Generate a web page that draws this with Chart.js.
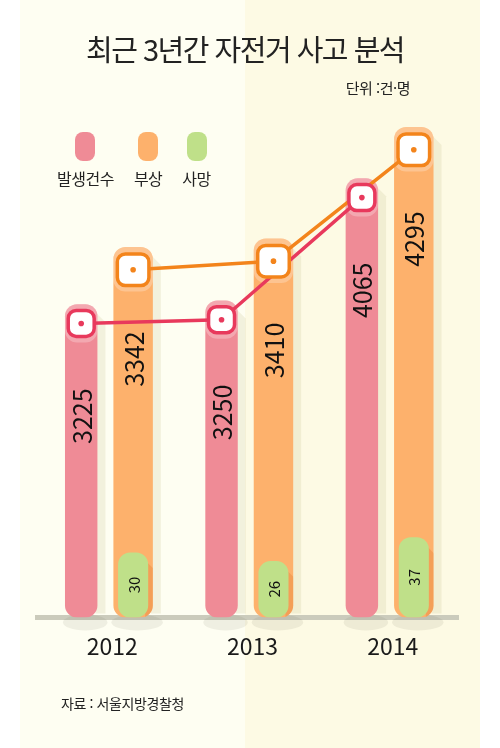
<!DOCTYPE html>
<html lang="ko">
<head>
<meta charset="utf-8">
<script src="https://cdn.jsdelivr.net/npm/chart.js@4.4.1/dist/chart.umd.min.js"></script>
<style>
  body { margin: 0; background: #fff; }
  #wrap {
    position: relative; width: 500px; height: 748px; overflow: hidden;
    font-family: "Noto Sans CJK KR", sans-serif; color: #222;
    background: linear-gradient(to right, #fff 0, #fff 20px, #fefef2 20px, #fefef2 245px,
      #fdfae4 245px, #fdfae4 480px, #fff 480px);
  }
  #myChart { position: absolute; left: 0; top: 0; }
  .title {
    position: absolute; left: 0; width: 490px; top: 30px; text-align: center;
    font-size: 29px; line-height: 36px; letter-spacing: -1.5px; color: #222;
  }
  .unit { position: absolute; right: 90px; top: 78px; font-size: 15px; line-height: 20px; letter-spacing: -0.5px; }
  #legend { position: absolute; left: 57px; top: 132px; display: flex; gap: 20px; }
  #legend .item { display: flex; flex-direction: column; align-items: center; }
  #legend .box { width: 20px; height: 29px; border-radius: 8px; }
  #legend .lbl { margin-top: 7px; font-size: 16px; line-height: 20px; letter-spacing: -0.5px; }
  .source { position: absolute; left: 61px; top: 693px; font-size: 14px; line-height: 20px; letter-spacing: -0.4px; }
</style>
</head>
<body>
<div id="wrap">
  <canvas id="myChart" width="500" height="748"></canvas>
  <div class="title">최근 3년간 자전거 사고 분석</div>
  <div class="unit">단위 :건·명</div>
  <div id="legend"></div>
  <div class="source">자료 : 서울지방경찰청</div>
</div>
<script>
//setup
const years = ["2012", "2013", "2014"];
const seriesNames = ["발생건수", "부상", "사망"];
const accidents = [3225, 3250, 4065];
const injuries = [3342, 3410, 4295];
const deaths = [30, 26, 37];

// the original is not drawn to scale, so every series gets its own hidden axis
const accidentAxis = { min: 1135, max: 4588 };
const injuryAxis = { min: 399, max: 4510 };
const deathAxis = { min: 0, max: 239 };

const barColors = ["#ef8b96", "#fdb16c", "#bfe089"];
const lineColors = ["#e8395c", "#f3841b"];

//legend
const legendEl = document.getElementById("legend");
seriesNames.forEach((name, i) => {
  legendEl.insertAdjacentHTML("beforeend",
    '<div class="item"><span class="box" style="background:' + barColors[i] +
    '"></span><span class="lbl">' + name + "</span></div>");
});

//plugins
const decorations = {
  id: "decorations",
  beforeDatasetsDraw(chart) {
    const ctx = chart.ctx;
    ctx.save();
    [0, 1].forEach((di) => {
      chart.getDatasetMeta(di).data.forEach((bar) => {
        const r = bar.x + bar.width / 2;
        ctx.fillStyle = "rgba(200,195,145,0.22)";
        ctx.beginPath();
        ctx.moveTo(r - 2, bar.y + 8);
        ctx.lineTo(r + 8, bar.y + 18);
        ctx.lineTo(r + 8, bar.base - 4);
        ctx.lineTo(r - 2, bar.base - 4);
        ctx.fill();
        ctx.fillStyle = "rgba(110,110,90,0.10)";
        ctx.beginPath();
        ctx.ellipse(bar.x + 4, bar.base + 5, bar.width / 2 + 6, 8, 0, 0, Math.PI * 2);
        ctx.fill();
      });
    });
    ctx.restore();
  },
  afterDatasetDraw(chart, args) {
    if (args.index !== 1) return;
    // shade cast by the green bars onto the orange ones
    const ctx = chart.ctx;
    const orange = chart.getDatasetMeta(1).data;
    chart.getDatasetMeta(2).data.forEach((g, i) => {
      const o = orange[i];
      const gr = g.x + g.width / 2;
      ctx.save();
      ctx.beginPath();
      ctx.roundRect(o.x - o.width / 2, o.y, o.width, o.base - o.y, 12);
      ctx.clip();
      ctx.fillStyle = "rgba(225,120,40,0.30)";
      ctx.beginPath();
      ctx.moveTo(gr - 3, g.y + 8);
      ctx.lineTo(gr + 25, g.y + 36);
      ctx.lineTo(gr + 25, o.base);
      ctx.lineTo(gr - 3, o.base);
      ctx.fill();
      ctx.restore();
    });
  },
  afterDatasetsDraw(chart) {
    const ctx = chart.ctx;
    ctx.save();

    // value labels, rotated
    ctx.fillStyle = "#111";
    ctx.textAlign = "center";
    ctx.textBaseline = "middle";
    [0, 1, 2].forEach((di) => {
      const values = chart.data.datasets[di].data;
      chart.getDatasetMeta(di).data.forEach((bar, i) => {
        const y = di === 2 ? (bar.y + bar.base) / 2 : bar.y + 112;
        ctx.font = (di === 2 ? "15px" : "25px") + " 'Noto Sans CJK KR'";
        ctx.save();
        ctx.translate(bar.x, y);
        ctx.rotate(-Math.PI / 2);
        ctx.fillText(String(values[i]), 0, 1);
        ctx.restore();
      });
    });

    // trend lines sit in the rounded top of each bar
    const pts = [0, 1].map((di) =>
      chart.getDatasetMeta(di).data.map((bar) => ({
        x: bar.x, y: bar.y + bar.width / 2 + 3, top: bar.y, w: bar.width, s: bar.width * 0.8,
      }))
    );

    pts.forEach((list) => list.forEach((p) => {
      ctx.fillStyle = "rgba(255,255,255,0.25)";
      ctx.beginPath();
      ctx.roundRect(p.x - p.w / 2, p.top, p.w, p.y - p.top + p.s / 2 + 6, 12);
      ctx.fill();
    }));

    [1, 0].forEach((k) => {
      ctx.strokeStyle = lineColors[k];
      ctx.lineWidth = 3.5;
      ctx.lineJoin = "round";
      ctx.beginPath();
      pts[k].forEach((p, i) => (i ? ctx.lineTo(p.x, p.y) : ctx.moveTo(p.x, p.y)));
      ctx.stroke();
    });

    [1, 0].forEach((k) => {
      pts[k].forEach((p) => {
        ctx.fillStyle = "#fff";
        ctx.strokeStyle = lineColors[k];
        ctx.lineWidth = 3.5;
        ctx.beginPath();
        ctx.roundRect(p.x - p.s / 2, p.y - p.s / 2, p.s, p.s, 8);
        ctx.fill();
        ctx.stroke();
        ctx.fillStyle = lineColors[k];
        ctx.beginPath();
        ctx.arc(p.x, p.y, 2.8, 0, Math.PI * 2);
        ctx.fill();
      });
    });
    ctx.restore();
  },
};

//config
const barBase = { borderRadius: 12, borderSkipped: false, categoryPercentage: 0.74 };

const config = {
  type: "bar",
  data: {
    labels: years,
    datasets: [
      Object.assign({
        label: seriesNames[0], data: accidents, backgroundColor: barColors[0],
        yAxisID: "yA", base: accidentAxis.min, stack: "a", order: 0, barPercentage: 0.625,
      }, barBase),
      Object.assign({
        label: seriesNames[1], data: injuries, backgroundColor: barColors[1],
        yAxisID: "yB", base: injuryAxis.min, stack: "b", order: 1, barPercentage: 0.76,
      }, barBase),
      Object.assign({
        label: seriesNames[2], data: deaths, backgroundColor: barColors[2],
        yAxisID: "yC", base: deathAxis.min, stack: "b", order: 0, barPercentage: 0.58,
      }, barBase),
    ],
  },
  options: {
    responsive: false,
    animation: false,
    layout: { padding: { left: 37, right: 42, top: 100, bottom: 73 } },
    plugins: { legend: { display: false }, tooltip: { enabled: false } },
    scales: {
      x: {
        grid: { display: false, drawTicks: false },
        border: { display: true, color: "#cbcbbc", width: 5 },
        ticks: {
          color: "#1a1a1a", padding: 15, labelOffset: 5,
          font: { family: "'Noto Sans CJK KR'", size: 23 },
        },
      },
      yA: { display: false, beginAtZero: false, min: accidentAxis.min, max: accidentAxis.max },
      yB: { display: false, beginAtZero: false, min: injuryAxis.min, max: injuryAxis.max },
      yC: { display: false, beginAtZero: false, min: deathAxis.min, max: deathAxis.max },
    },
  },
  plugins: [decorations],
};

//chart
const myChart = new Chart(document.getElementById("myChart"), config);
</script>
</body>
</html>
